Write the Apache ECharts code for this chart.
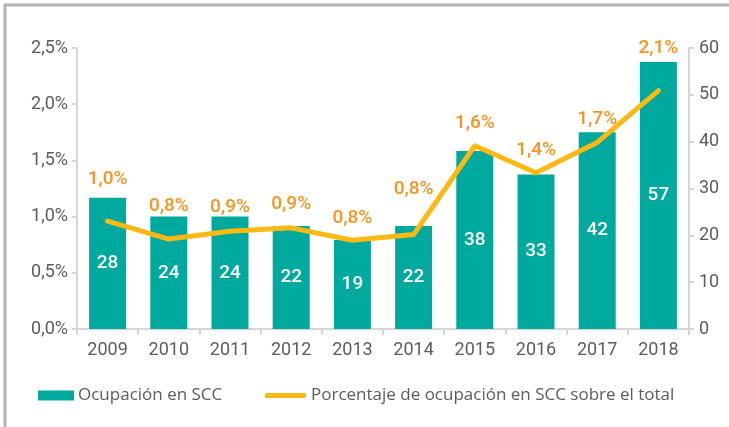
<!DOCTYPE html>
<html>
<head>
<meta charset="utf-8">
<script src="https://cdn.jsdelivr.net/npm/echarts@6/dist/echarts.min.js"></script>
<style>
  html, body { margin: 0; padding: 0; background: #fff; }
  #chart { width: 729px; height: 427px; }
</style>
</head>
<body>
<div id="chart"></div>
<script>
// Años de la serie
const years = ['2009', '2010', '2011', '2012', '2013', '2014', '2015', '2016', '2017', '2018'];
// Ocupación en SCC (miles de personas, eje derecho)
const occupation = [28, 24, 24, 22, 19, 22, 38, 33, 42, 57];
// Porcentaje de ocupación en SCC sobre el total (eje izquierdo, %)
const share = [0.96, 0.80, 0.87, 0.90, 0.79, 0.84, 1.63, 1.39, 1.66, 2.12];
// Elevación de cada etiqueta de porcentaje sobre su punto (px)
const shareLabelRise = [42, 33, 24, 24, 22, 45, 23, 23, 23, 42];

const seriesNames = ['Ocupación en SCC', 'Porcentaje de ocupación en SCC sobre el total'];

const FONT = 'Roboto, "Noto Sans", sans-serif';
const LEGEND_FONT = '"Open Sans", Roboto, sans-serif';
const GREY = '#5b5c5e';
const AXIS = '#d6d6d6';
const TEAL = '#00a99d';
const GOLD = '#fdb813';
const ORANGE = '#f7941d';

const pct = v => v.toFixed(1).replace('.', ',') + '%';

const chart = echarts.init(document.getElementById('chart'), null, { renderer: 'canvas' });

chart.setOption({
  animation: false,
  backgroundColor: '#fff',
  textStyle: { fontFamily: FONT },
  graphic: [{
    type: 'polyline',
    shape: { points: [[5, 427], [5, 5], [729, 5]] },
    style: { stroke: '#b3b3b3', lineWidth: 3, fill: null },
    silent: true
  }],
  grid: { left: 77, right: 40, top: 48, bottom: 98, containLabel: false },
  legend: [
    {
      data: [seriesNames[0]],
      left: 38, top: 387, padding: 0,
      itemWidth: 36, itemHeight: 10, itemGap: 4,
      icon: 'rect',
      textStyle: { color: GREY, fontSize: 17, fontFamily: LEGEND_FONT, padding: [0, 0, 0, -1] }
    },
    {
      data: [{ name: seriesNames[1], icon: 'roundRect' }],
      left: 265, top: 387, padding: 0,
      itemWidth: 41, itemHeight: 5,
      textStyle: { color: GREY, fontSize: 17, fontFamily: LEGEND_FONT }
    }
  ],
  xAxis: {
    type: 'category',
    data: years,
    axisLine: { lineStyle: { color: AXIS, width: 2 } },
    axisTick: { show: true, length: 6, lineStyle: { color: AXIS, width: 2 } },
    axisLabel: { color: GREY, fontSize: 18, margin: 12, fontFamily: FONT }
  },
  yAxis: [
    {
      type: 'value', min: 0, max: 2.5, interval: 0.5, position: 'left',
      axisLine: { show: true, lineStyle: { color: AXIS, width: 2 } },
      axisTick: { show: true, length: 5, lineStyle: { color: AXIS, width: 2 } },
      splitLine: { show: false },
      axisLabel: { color: GREY, fontSize: 18, margin: 9, fontFamily: FONT, formatter: v => pct(v) }
    },
    {
      type: 'value', min: 0, max: 60, interval: 10, position: 'right',
      axisLine: { show: true, lineStyle: { color: AXIS, width: 2 } },
      axisTick: { show: true, length: 5, lineStyle: { color: AXIS, width: 2 } },
      splitLine: { show: false },
      axisLabel: { color: GREY, fontSize: 18, margin: 10, fontFamily: FONT }
    }
  ],
  series: [
    {
      name: seriesNames[0],
      type: 'bar',
      yAxisIndex: 1,
      data: occupation,
      barWidth: 37,
      itemStyle: { color: TEAL },
      label: {
        show: true, position: 'inside', color: '#fff',
        fontSize: 19, fontWeight: 500, fontFamily: FONT
      }
    },
    {
      name: seriesNames[1],
      type: 'line',
      yAxisIndex: 0,
      z: 5,
      data: share.map((v, i) => ({
        value: v,
        label: { offset: [0, -shareLabelRise[i]] }
      })),
      symbol: 'circle',
      symbolSize: 1,
      itemStyle: { color: GOLD },
      lineStyle: { color: GOLD, width: 5, cap: 'round', join: 'round' },
      label: {
        show: true, position: 'inside', color: ORANGE,
        fontSize: 19, fontWeight: 500, fontFamily: FONT,
        formatter: p => pct(p.value)
      }
    }
  ]
});
</script>
</body>
</html>
